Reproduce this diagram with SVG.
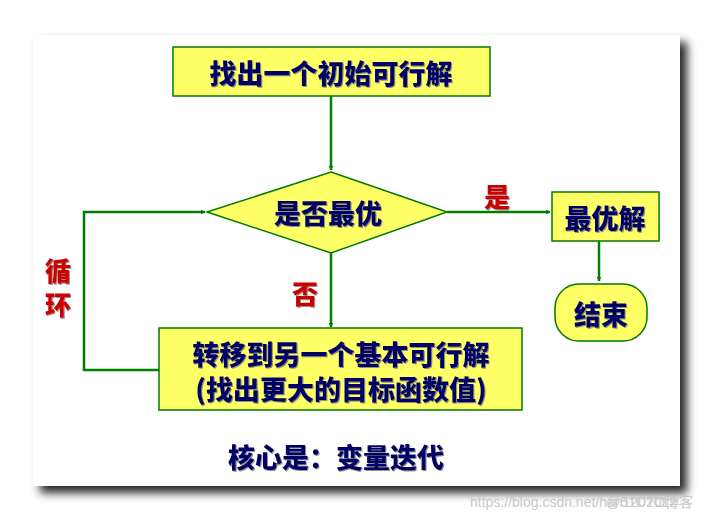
<svg xmlns="http://www.w3.org/2000/svg" width="715" height="522" viewBox="0 0 715 522">
<defs>
<filter id="card-shadow" x="-10%" y="-10%" width="125%" height="125%">
<feDropShadow dx="7" dy="7" stdDeviation="5" flood-color="#000" flood-opacity="0.85"/>
</filter>
<filter id="txt-shadow" x="-5%" y="-5%" width="110%" height="120%">
<feDropShadow dx="1" dy="1" stdDeviation="0.4" flood-color="#777" flood-opacity="0.8"/>
</filter>
<marker id="arrow" viewBox="0 0 10 10" refX="9" refY="5" markerWidth="5" markerHeight="5" orient="auto" markerUnits="userSpaceOnUse">
<path d="M0,0 L10,5 L0,10 z" fill="#008000"/>
</marker>
<style>
.box{fill:#FFFF66;stroke:#007A00;stroke-width:1.5}
.t{font-family:"Noto Sans CJK SC","Noto Sans CJK JP",sans-serif;font-weight:900;font-size:27px;fill:#000066;text-anchor:middle;dominant-baseline:central;filter:url(#txt-shadow)}
.r{font-family:"Noto Sans CJK SC","Noto Sans CJK JP",sans-serif;font-weight:900;font-size:26px;fill:#CC0000;text-anchor:middle;dominant-baseline:central;filter:url(#txt-shadow)}
.c{fill:none;stroke:#008000;stroke-width:2.5}
.wm{font-family:"Liberation Sans","Noto Sans CJK SC",sans-serif;font-size:14px;fill:#c8c8c8}
</style>
</defs>
<rect width="715" height="522" fill="#ffffff"/>
<rect x="33" y="35" width="647" height="451" fill="#ffffff" filter="url(#card-shadow)"/>

<g id="connectors">
<line class="c" x1="331" y1="96" x2="331" y2="170" marker-end="url(#arrow)"/>
<line class="c" x1="331" y1="253" x2="331" y2="327" marker-end="url(#arrow)"/>
<polyline class="c" points="159,370 84,370 84,212 205,212" marker-end="url(#arrow)"/>
<line class="c" x1="447" y1="212" x2="550" y2="212" marker-end="url(#arrow)"/>
<line class="c" x1="599" y1="241" x2="599" y2="281" marker-end="url(#arrow)"/>
</g>

<g id="start">
<rect class="box" x="173" y="47" width="317" height="49"/>
<text class="t" x="331" y="72">找出一个初始可行解</text>
</g>

<g id="decision">
<polygon class="box" points="331,172 447,212 331,253 207,212"/>
<text class="t" x="328" y="212">是否最优</text>
</g>

<g id="label-yes">
<text class="r" x="497" y="195">是</text>
</g>

<g id="label-no">
<text class="r" x="305" y="292">否</text>
</g>

<g id="label-loop">
<text class="r" x="58" y="269">循</text>
<text class="r" x="58" y="303">环</text>
</g>

<g id="optimal">
<rect class="box" x="552" y="192" width="107" height="49"/>
<text class="t" x="605" y="217">最优解</text>
</g>

<g id="end">
<rect class="box" x="555" y="284" width="92" height="57" rx="24" ry="24"/>
<text class="t" x="601" y="313">结束</text>
</g>

<g id="transfer">
<rect class="box" x="159" y="328" width="363" height="82"/>
<text class="t" x="341" y="353">转移到另一个基本可行解</text>
<text class="t" x="341" y="388">(找出更大的目标函数值)</text>
</g>

<g id="summary">
<text class="t" x="336" y="456">核心是：变量迭代</text>
</g>

<text class="wm" x="470" y="507">https://blog.csdn.net/han1202012</text>
<text class="wm" x="606" y="507">@51CTO博客</text>
</svg>
